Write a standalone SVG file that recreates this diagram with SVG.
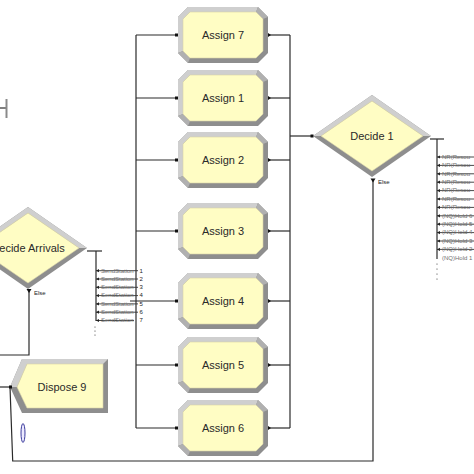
<svg xmlns="http://www.w3.org/2000/svg" width="474" height="474" viewBox="0 0 474 474">
<style>
.ln{fill:none;stroke:#2a2a2a;stroke-width:1.2}
.lbl{font-family:"Liberation Sans",Arial,sans-serif;font-size:11px;fill:#2a2a2a;text-anchor:middle}
.sm{font-family:"Liberation Sans",Arial,sans-serif;font-size:6px;fill:#707070}
.el{font-family:"Liberation Sans",Arial,sans-serif;font-size:6px;fill:#222}
.row{stroke:#333;stroke-width:0.9;fill:none}
.dot{fill:#333}
</style>
<defs>
<g id="assignShape">
<polygon points="10,0 80,0 90,10 90,46 80,56 10,56 0,46 0,10" fill="#8E8E8E"/>
<polygon points="10,0 80,0 78,5 12,5 5,12 5,44 0,46 0,10" fill="#CFCFCF"/>
<polygon points="80,0 90,10 85,12 78,5" fill="#B0B0B0"/>
<polygon points="0,46 10,56 12,51 5,44" fill="#B0B0B0"/>
<polygon points="12,5 78,5 85,12 85,44 78,51 12,51 5,44 5,12" fill="#FFFDC4" stroke="#D8D4A8" stroke-width="0.6"/>
</g>
<g id="decideShape">
<polygon points="0,0 59,-41 118,0 59,41" fill="#8E8E8E"/>
<polygon points="0,0 59,-41 118,0 110,0 59,-35 8,0" fill="#CFCFCF"/>
<polygon points="8,0 59,-35 110,0 59,35" fill="#FFFDC4" stroke="#D8D4A8" stroke-width="0.6"/>
</g>
<polygon id="inPt" points="-1.5,-1.5 1.5,-1.5 1.5,1.5 -1.5,1.5" fill="#111"/>
<polygon id="outPt" points="0,-2 3,0 0,2" fill="#111"/>
<polygon id="rowArr" points="0,0 3,-1.6 3,1.6" fill="#222"/>
</defs>

<g id="connectors">
<!-- top-left fragment -->
<line x1="0" y1="108" x2="6" y2="108" class="ln"/>
<line x1="6.5" y1="99" x2="6.5" y2="118" stroke="#8A8A8A" stroke-width="2"/>
<!-- left bus -->
<line x1="136" y1="35" x2="136" y2="428" class="ln"/>
<line x1="136" y1="35" x2="177" y2="35" class="ln"/>
<line x1="136" y1="98" x2="177" y2="98" class="ln"/>
<line x1="136" y1="160" x2="177" y2="160" class="ln"/>
<line x1="136" y1="231" x2="177" y2="231" class="ln"/>
<line x1="130" y1="301" x2="177" y2="301" class="ln"/>
<line x1="136" y1="365" x2="177" y2="365" class="ln"/>
<line x1="136" y1="428" x2="177" y2="428" class="ln"/>
<!-- right bus -->
<line x1="290" y1="35" x2="290" y2="428" class="ln"/>
<line x1="268" y1="35" x2="290" y2="35" class="ln"/>
<line x1="268" y1="98" x2="290" y2="98" class="ln"/>
<line x1="268" y1="160" x2="290" y2="160" class="ln"/>
<line x1="268" y1="231" x2="290" y2="231" class="ln"/>
<line x1="268" y1="301" x2="290" y2="301" class="ln"/>
<line x1="268" y1="365" x2="290" y2="365" class="ln"/>
<line x1="268" y1="428" x2="290" y2="428" class="ln"/>
<line x1="290" y1="136" x2="312" y2="136" class="ln"/>
<!-- Decide 1 outputs -->
<polyline points="430,139 444,139" class="ln"/>
<line x1="437" y1="139" x2="437" y2="259" class="ln"/>
<!-- Decide 1 else loop -->
<polyline points="373,180 373,461 12.7,461 10,387" class="ln"/>
<line x1="0" y1="387" x2="10" y2="387" class="ln"/>
<!-- Decide Arrivals outputs -->
<polyline points="87,251 102,251" class="ln"/>
<line x1="96" y1="251" x2="96" y2="321" class="ln"/>
<!-- Decide Arrivals else -->
<polyline points="29,290 29,355 0,355" class="ln"/>
</g>

<!-- SendStation rows -->
<g id="sendStations">
<g class="row">
<line x1="96" y1="270.7" x2="138" y2="270.7"/>
<line x1="96" y1="279" x2="138" y2="279"/>
<line x1="96" y1="287.3" x2="138" y2="287.3"/>
<line x1="96" y1="295.6" x2="138" y2="295.6"/>
<line x1="96" y1="303.9" x2="138" y2="303.9"/>
<line x1="96" y1="312.2" x2="138" y2="312.2"/>
<line x1="96" y1="320.5" x2="134" y2="320.5"/>
</g>
<use href="#rowArr" x="96" y="270.7"/><use href="#rowArr" x="96" y="279"/><use href="#rowArr" x="96" y="287.3"/><use href="#rowArr" x="96" y="295.6"/><use href="#rowArr" x="96" y="303.9"/><use href="#rowArr" x="96" y="312.2"/><use href="#rowArr" x="96" y="320.5"/>
<text class="sm" x="101" y="272.5">SendStation</text><text class="el" x="139.5" y="272.5">1</text>
<text class="sm" x="101" y="280.8">SendStation</text><text class="el" x="139.5" y="280.8">2</text>
<text class="sm" x="101" y="289.1">SendStation</text><text class="el" x="139.5" y="289.1">3</text>
<text class="sm" x="101" y="297.4">SendStation</text><text class="el" x="139.5" y="297.4">4</text>
<text class="sm" x="101" y="305.7">SendStation</text><text class="el" x="139.5" y="305.7">5</text>
<text class="sm" x="101" y="314">SendStation</text><text class="el" x="139.5" y="314">6</text>
<text class="sm" x="101" y="322.3">SendStation</text><text class="el" x="139.5" y="322.3">7</text>
<circle class="dot" cx="95" cy="327" r="0.6"/><circle class="dot" cx="95" cy="331" r="0.6"/><circle class="dot" cx="95" cy="335" r="0.6"/>
</g>

<!-- Decide 1 condition rows -->
<g id="decide1Rows">
<g class="row">
<line x1="437" y1="157" x2="474" y2="157"/><line x1="437" y1="165.4" x2="474" y2="165.4"/><line x1="437" y1="173.8" x2="474" y2="173.8"/><line x1="437" y1="182.2" x2="474" y2="182.2"/><line x1="437" y1="190.6" x2="474" y2="190.6"/><line x1="437" y1="199" x2="474" y2="199"/><line x1="437" y1="207.4" x2="474" y2="207.4"/><line x1="437" y1="215.8" x2="474" y2="215.8"/><line x1="437" y1="224.2" x2="474" y2="224.2"/><line x1="437" y1="232.6" x2="474" y2="232.6"/><line x1="437" y1="241" x2="474" y2="241"/><line x1="437" y1="249.4" x2="474" y2="249.4"/>
</g>
<use href="#rowArr" x="437" y="157"/><use href="#rowArr" x="437" y="165.4"/><use href="#rowArr" x="437" y="173.8"/><use href="#rowArr" x="437" y="182.2"/><use href="#rowArr" x="437" y="190.6"/><use href="#rowArr" x="437" y="199"/><use href="#rowArr" x="437" y="207.4"/><use href="#rowArr" x="437" y="215.8"/><use href="#rowArr" x="437" y="224.2"/><use href="#rowArr" x="437" y="232.6"/><use href="#rowArr" x="437" y="241"/><use href="#rowArr" x="437" y="249.4"/>
<text class="sm" x="442" y="158.8">NR(Resou</text>
<text class="sm" x="442" y="167.2">NR(Resou</text>
<text class="sm" x="442" y="175.6">NR(Resou</text>
<text class="sm" x="442" y="184">NR(Resou</text>
<text class="sm" x="442" y="192.4">NR(Resou</text>
<text class="sm" x="442" y="200.8">NR(Resou</text>
<text class="sm" x="442" y="209.2">NR(Resou</text>
<text class="sm" x="442" y="217.6">(NQ)Hold 6</text>
<text class="sm" x="442" y="226">(NQ)Hold 5</text>
<text class="sm" x="442" y="234.4">(NQ)Hold 4</text>
<text class="sm" x="442" y="242.8">(NQ)Hold 3</text>
<text class="sm" x="442" y="251.2">(NQ)Hold 2</text>
<text class="sm" x="442" y="259.6">(NQ)Hold 1</text>
<circle class="dot" cx="437" cy="264" r="0.6"/><circle class="dot" cx="437" cy="269" r="0.6"/><circle class="dot" cx="437" cy="274" r="0.6"/><circle class="dot" cx="437" cy="279" r="0.6"/>
</g>

<g id="assign7"><use href="#assignShape" x="178" y="7"/><use href="#inPt" x="176.5" y="35"/><use href="#outPt" x="268" y="35"/><text class="lbl" x="223" y="39">Assign 7</text></g>
<g id="assign1"><use href="#assignShape" x="178" y="70"/><use href="#inPt" x="176.5" y="98"/><use href="#outPt" x="268" y="98"/><text class="lbl" x="223" y="102">Assign 1</text></g>
<g id="assign2"><use href="#assignShape" x="178" y="132"/><use href="#inPt" x="176.5" y="160"/><use href="#outPt" x="268" y="160"/><text class="lbl" x="223" y="164">Assign 2</text></g>
<g id="assign3"><use href="#assignShape" x="178" y="203"/><use href="#inPt" x="176.5" y="231"/><use href="#outPt" x="268" y="231"/><text class="lbl" x="223" y="235">Assign 3</text></g>
<g id="assign4"><use href="#assignShape" x="178" y="273"/><use href="#inPt" x="176.5" y="301"/><use href="#outPt" x="268" y="301"/><text class="lbl" x="223" y="305">Assign 4</text></g>
<g id="assign5"><use href="#assignShape" x="178" y="337"/><use href="#inPt" x="176.5" y="365"/><use href="#outPt" x="268" y="365"/><text class="lbl" x="223" y="369">Assign 5</text></g>
<g id="assign6"><use href="#assignShape" x="178" y="400"/><use href="#inPt" x="176.5" y="428"/><use href="#outPt" x="268" y="428"/><text class="lbl" x="223" y="432">Assign 6</text></g>

<g id="decide1">
<use href="#decideShape" x="313" y="136"/>
<use href="#inPt" x="312" y="136"/>
<text class="lbl" x="372" y="140">Decide 1</text>
<polygon points="370.5,178.5 375.5,178.5 373,182.5" fill="#111"/>
<text class="el" x="378" y="184">Else</text>
</g>

<g id="decideArrivals">
<use href="#decideShape" x="-31" y="248"/>
<text class="lbl" x="28" y="252">Decide Arrivals</text>
<polygon points="26.5,289 31.5,289 29,293" fill="#111"/>
<text class="el" x="34" y="295">Else</text>
</g>

<g id="dispose9">
<polygon points="10,387 22,359 108,359 108,413 22,413" fill="#8E8E8E"/>
<polygon points="10,387 22,359 108,359 103,364 27,364 17,387" fill="#CFCFCF"/>
<polygon points="17,387 27,364 103,364 103,408 27,408" fill="#FFFDC4" stroke="#D8D4A8" stroke-width="0.6"/>
<use href="#inPt" x="10.5" y="387"/>
<text class="lbl" x="62" y="391">Dispose 9</text>
</g>

<g id="variable">
<ellipse cx="23" cy="433" rx="2" ry="9.5" fill="#ECEAFF" stroke="#3C3C9C" stroke-width="1"/>
</g>
</svg>
